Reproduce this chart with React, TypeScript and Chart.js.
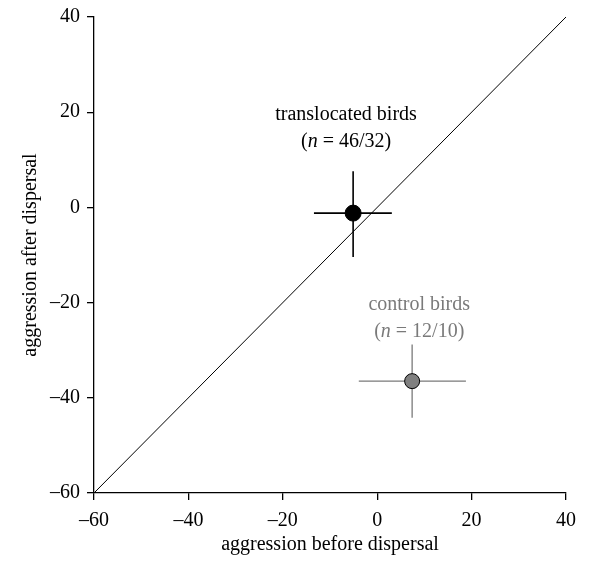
import React, { useEffect, useRef } from "react";
import { Chart, registerables } from "chart.js";

Chart.register(...registerables);

const groups = ["translocated birds", "control birds"];
const nLabels = ["46/32", "12/10"];
const xMeans = [-5.1, 7.4];
const yMeans = [-1.2, -36.5];
const xLow = [-13.4, -3.9];
const xHigh = [3.1, 18.8];
const yLow = [-10.4, -44.2];
const yHigh = [7.6, -28.8];
const labelX = [-6.6, 8.9];
const labelY = [19.4, -20.4];
const colors = ["#000000", "#7a7a7a"];
const fills = ["#000000", "#808080"];
const tickValues = [-60, -40, -20, 0, 20, 40];

const FONT = "'Liberation Serif', 'Times New Roman', serif";

const errorBarPlugin = {
  id: "errorBars",
  beforeDatasetsDraw(chart: any) {
    const { ctx, scales } = chart;
    const xs = scales.x;
    const ys = scales.y;
    ctx.save();
    for (let i = 0; i < groups.length; i++) {
      ctx.strokeStyle = colors[i];
      ctx.lineWidth = i === 0 ? 1.6 : 1.3;
      const cx = xs.getPixelForValue(xMeans[i]);
      const cy = ys.getPixelForValue(yMeans[i]);
      ctx.beginPath();
      ctx.moveTo(xs.getPixelForValue(xLow[i]), cy);
      ctx.lineTo(xs.getPixelForValue(xHigh[i]), cy);
      ctx.moveTo(cx, ys.getPixelForValue(yLow[i]));
      ctx.lineTo(cx, ys.getPixelForValue(yHigh[i]));
      ctx.stroke();
    }
    ctx.restore();
  },
  afterDatasetsDraw(chart: any) {
    const { ctx, scales } = chart;
    const xs = scales.x;
    const ys = scales.y;
    ctx.save();
    ctx.textAlign = "center";
    ctx.textBaseline = "middle";
    for (let i = 0; i < groups.length; i++) {
      const px = xs.getPixelForValue(labelX[i]);
      const py = ys.getPixelForValue(labelY[i]);
      ctx.fillStyle = colors[i];
      ctx.font = `20px ${FONT}`;
      ctx.fillText(groups[i], px, py);
      const p1 = "(";
      const p2 = "n";
      const p3 = " = " + nLabels[i] + ")";
      ctx.font = `20px ${FONT}`;
      const w1 = ctx.measureText(p1).width;
      const w3 = ctx.measureText(p3).width;
      ctx.font = `italic 20px ${FONT}`;
      const w2 = ctx.measureText(p2).width;
      const total = w1 + w2 + w3;
      let sx = px - total / 2;
      const ly = py + 27;
      ctx.textAlign = "left";
      ctx.font = `20px ${FONT}`;
      ctx.fillText(p1, sx, ly);
      sx += w1;
      ctx.font = `italic 20px ${FONT}`;
      ctx.fillText(p2, sx, ly);
      sx += w2;
      ctx.font = `20px ${FONT}`;
      ctx.fillText(p3, sx, ly);
      ctx.textAlign = "center";
    }
    ctx.restore();
  },
};

export default function App() {
  const ref = useRef<HTMLCanvasElement>(null);
  useEffect(() => {
    if (!ref.current) return;
    const chart = new Chart(ref.current, {
      type: "scatter",
      data: {
        datasets: [
          {
            type: "line",
            data: [
              { x: tickValues[0], y: tickValues[0] },
              { x: tickValues[tickValues.length - 1], y: tickValues[tickValues.length - 1] },
            ],
            borderColor: "#000",
            borderWidth: 1,
            pointRadius: 0,
            fill: false,
          } as any,
          ...groups.map((g, i) => ({
            label: g,
            data: [{ x: xMeans[i], y: yMeans[i] }],
            pointRadius: i === 0 ? 8 : 7.5,
            pointBackgroundColor: fills[i],
            pointBorderColor: "#000",
            pointBorderWidth: 1,
            backgroundColor: fills[i],
            borderColor: "#000",
          })),
        ],
      },
      options: {
        animation: false,
        responsive: false,
        maintainAspectRatio: false,
        layout: { padding: { top: 9, right: 16, left: 0, bottom: 0 } },
        plugins: {
          legend: { display: false },
          tooltip: { enabled: false },
        },
        scales: {
          x: {
            type: "linear",
            min: -60,
            max: 40,
            afterBuildTicks: (s: any) => {
              s.ticks = tickValues.map((v) => ({ value: v }));
            },
            afterFit: (s: any) => {
              s.height = 63;
              s.paddingLeft = 0;
              s.paddingRight = 0;
            },
            border: { display: true, color: "#000", width: 1.3 },
            grid: { drawOnChartArea: false, drawTicks: true, tickLength: 7, color: "#000", lineWidth: 1.3 },
            ticks: {
              color: "#000",
              padding: 9,
              font: { family: FONT, size: 20 },
              callback: (v: any) => String(v).replace("-", "–"),
            },
            title: {
              display: true,
              text: "aggression before dispersal",
              color: "#000",
              font: { family: FONT, size: 20 },
              padding: { top: 0, bottom: -1 },
            },
          },
          y: {
            type: "linear",
            min: -60,
            max: 40,
            afterBuildTicks: (s: any) => {
              s.ticks = tickValues.map((v) => ({ value: v }));
            },
            afterFit: (s: any) => {
              s.width = 86;
              s.paddingTop = 0;
              s.paddingBottom = 0;
            },
            border: { display: true, color: "#000", width: 1.3 },
            grid: { drawOnChartArea: false, drawTicks: true, tickLength: 7, color: "#000", lineWidth: 1.3 },
            ticks: {
              color: "#000",
              padding: 7,
              font: { family: FONT, size: 20 },
              callback: (v: any) => String(v).replace("-", "–"),
            },
            title: {
              display: true,
              text: "aggression after dispersal",
              color: "#000",
              font: { family: FONT, size: 20 },
              padding: { top: 11, bottom: 0 },
            },
          },
        },
      },
      plugins: [errorBarPlugin],
    });
    return () => chart.destroy();
  }, []);
  return (
    <div style={{ width: 574, height: 548 }}>
      <canvas ref={ref} width={574} height={548} style={{ width: 574, height: 548 }} />
    </div>
  );
}
